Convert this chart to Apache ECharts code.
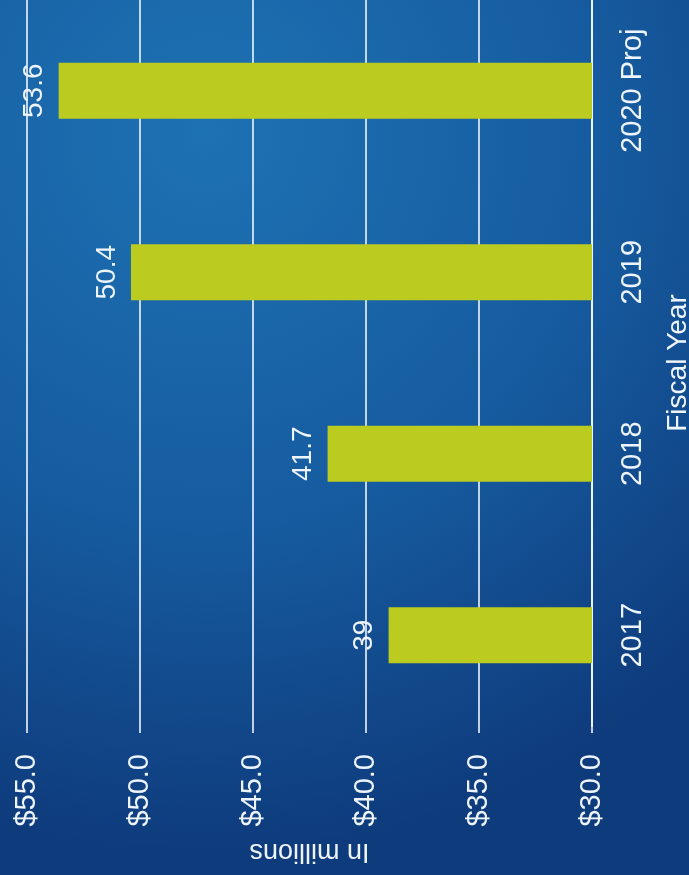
<!DOCTYPE html>
<html>
<head>
<meta charset="utf-8">
<script src="https://cdn.jsdelivr.net/npm/echarts@6/dist/echarts.min.js"></script>
<style>
  html, body { margin: 0; padding: 0; }
  #chart { width: 689px; height: 875px; }
</style>
</head>
<body>
<div id="chart"></div>
<script>
// fiscal years and revenue (in millions)
const years = ['2017', '2018', '2019', '2020 Proj'];
const revenue = [39, 41.7, 50.4, 53.6];
const valueMin = 30;
const valueMax = 55;
const valueStep = 5;

const font = 'Liberation Sans, Arial, sans-serif';
const white = '#eef4fb';

const myChart = echarts.init(document.getElementById('chart'));

const option = {
  animation: false,
  backgroundColor: {
    type: 'radial', x: 0.3, y: 0.15, r: 1.05,
    colorStops: [
      { offset: 0, color: '#1d72b3' },
      { offset: 0.55, color: '#165b9f' },
      { offset: 1, color: '#0e3b7c' }
    ]
  },
  grid: { left: 27, right: 97, top: 0, bottom: 149, containLabel: false, outerBoundsMode: 'none' },
  xAxis: {
    type: 'value',
    inverse: true,
    position: 'bottom',
    min: valueMin,
    max: valueMax,
    interval: valueStep,
    name: 'In millions',
    nameLocation: 'middle',
    nameGap: 112,
    nameRotate: 180,
    nameTextStyle: { color: white, fontSize: 27, fontFamily: font },
    axisLine: { show: false },
    axisTick: { show: true, length: 7, lineStyle: { color: white, width: 1.6 } },
    splitLine: { show: true, lineStyle: { color: white, width: 1.6 } },
    axisLabel: {
      rotate: 90,
      margin: 28,
      color: white,
      fontSize: 29,
      fontFamily: font,
      formatter: v => '$' + v.toFixed(1)
    }
  },
  yAxis: {
    type: 'category',
    position: 'right',
    data: years,
    name: 'Fiscal Year',
    nameLocation: 'middle',
    nameGap: 72,
    nameRotate: 90,
    nameTextStyle: { color: white, fontSize: 28, fontFamily: font },
    axisLine: { show: true, lineStyle: { color: white, width: 2 } },
    axisTick: { show: false },
    axisLabel: {
      rotate: 90,
      margin: 26,
      color: white,
      fontSize: 29,
      fontFamily: font
    }
  },
  series: [
    {
      type: 'bar',
      data: revenue,
      barWidth: 56,
      itemStyle: { color: '#bccb1f' },
      label: {
        show: true,
        position: 'left',
        distance: 10,
        rotate: 90,
        align: 'center',
        verticalAlign: 'bottom',
        color: white,
        fontSize: 28,
        fontFamily: font
      }
    }
  ]
};

myChart.setOption(option);
</script>
</body>
</html>
